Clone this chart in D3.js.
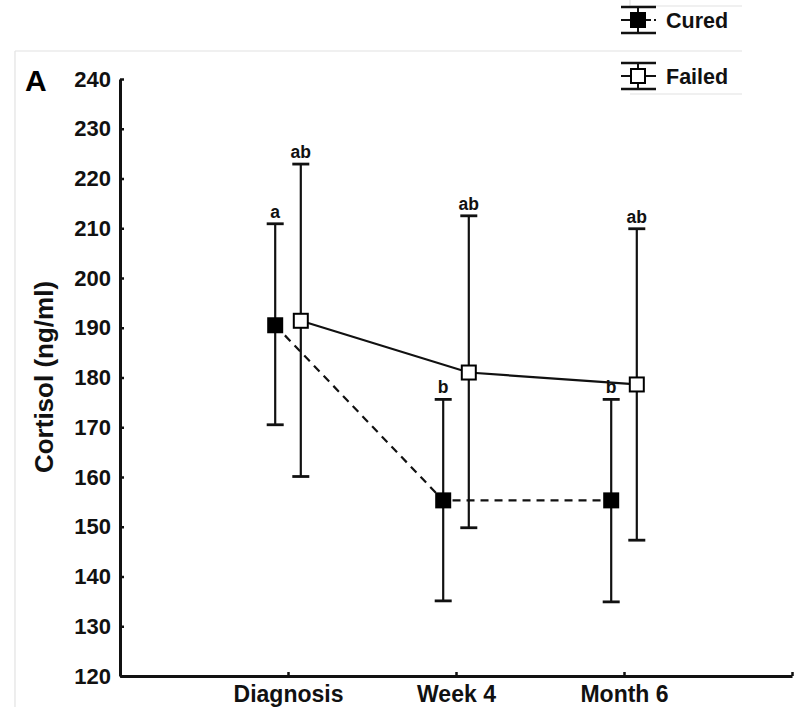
<!DOCTYPE html>
<html>
<head>
<meta charset="utf-8">
<script src="https://cdn.jsdelivr.net/npm/d3@7"></script>
<style>
  body { margin: 0; background: #fff; }
  svg { display: block; font-family: "Liberation Sans", Arial, sans-serif; font-weight: bold; }
</style>
</head>
<body>
<svg width="804" height="707"></svg>
<script>
'use strict';

var categories = ['Diagnosis', 'Week 4', 'Month 6'];
var curedMean = [190.5, 155.3, 155.3];
var curedLow = [170.5, 135.1, 134.9];
var curedHigh = [210.9, 175.6, 175.6];
var failedMean = [191.4, 181.0, 178.6];
var failedLow = [160.1, 149.8, 147.3];
var failedHigh = [222.9, 212.5, 209.9];
var curedLetters = ['a', 'b', 'b'];
var failedLetters = ['ab', 'ab', 'ab'];
var yTicks = [120, 130, 140, 150, 160, 170, 180, 190, 200, 210, 220, 230, 240];

(() => {
  var svg = d3.select('svg');
  var ink = '#111';

  // light frame lines from the original figure
  var frame = [[15, 51, 742, 51], [15, 51, 15, 707], [630, 6, 742, 6], [630, 0, 630, 6], [630, 94, 742, 94]];
  svg.selectAll('line.frame').data(frame).enter().append('line')
    .attr('class', 'frame')
    .attr('x1', d => d[0]).attr('y1', d => d[1])
    .attr('x2', d => d[2]).attr('y2', d => d[3])
    .attr('stroke', '#e2e2e2').attr('stroke-width', 1.2);

  var x = d3.scaleLinear().domain([0, 4]).range([120, 792]);
  var y = d3.scaleLinear().domain([120, 240]).range([676, 79]);
  var off = 12.8;

  var yAxis = svg.append('g')
    .attr('transform', 'translate(120,0)')
    .call(d3.axisLeft(y).tickValues(yTicks).tickSize(-4).tickSizeOuter(0).tickPadding(9));
  yAxis.selectAll('text').attr('font-size', 22).attr('fill', ink);

  var xAxis = svg.append('g')
    .attr('transform', 'translate(0,676)')
    .call(d3.axisBottom(x).tickValues([1, 2, 3, 4]).tickSize(-4).tickSizeOuter(0).tickPadding(10)
      .tickFormat(i => categories[i - 1] || ''));
  xAxis.selectAll('text').attr('font-size', 23).attr('fill', ink);

  svg.selectAll('.domain').attr('stroke', ink).attr('stroke-width', 3);
  svg.selectAll('.tick line').attr('stroke', ink).attr('stroke-width', 2.5);

  svg.append('text')
    .attr('transform', 'translate(53,377) rotate(-90)')
    .attr('text-anchor', 'middle')
    .attr('font-size', 26)
    .attr('fill', ink)
    .text('Cortisol (ng/ml)');

  svg.append('text')
    .attr('x', 25).attr('y', 91)
    .attr('font-size', 30)
    .attr('fill', '#000')
    .text('A');

  var series = [
    {name: 'Cured', mean: curedMean, low: curedLow, high: curedHigh, letters: curedLetters, dx: -off, fill: '#000', dash: '8,6'},
    {name: 'Failed', mean: failedMean, low: failedLow, high: failedHigh, letters: failedLetters, dx: off, fill: '#fff', dash: null}
  ];

  series.forEach(s => {
    var pts = s.mean.map((m, i) => ({i: i, m: m, lo: s.low[i], hi: s.high[i], lab: s.letters[i], px: x(i + 1) + s.dx}));
    var g = svg.append('g');

    g.selectAll('line.bar').data(pts).enter().append('line')
      .attr('x1', d => d.px).attr('x2', d => d.px)
      .attr('y1', d => y(d.lo)).attr('y2', d => y(d.hi))
      .attr('stroke', ink).attr('stroke-width', 2.2);
    ['lo', 'hi'].forEach(k => {
      g.selectAll('line.cap' + k).data(pts).enter().append('line')
        .attr('x1', d => d.px - 8.5).attr('x2', d => d.px + 8.5)
        .attr('y1', d => y(d[k])).attr('y2', d => y(d[k]))
        .attr('stroke', ink).attr('stroke-width', 2.8);
    });

    g.selectAll('text').data(pts).enter().append('text')
      .attr('x', d => d.px).attr('y', d => y(d.hi) - 6)
      .attr('text-anchor', 'middle')
      .attr('font-size', 17.5)
      .attr('fill', ink)
      .text(d => d.lab);

    s.pts = pts;
  });

  series.forEach(s => {
    svg.append('path')
      .datum(s.pts)
      .attr('d', d3.line().x(d => d.px).y(d => y(d.m)))
      .attr('fill', 'none')
      .attr('stroke', ink)
      .attr('stroke-width', 2.2)
      .attr('stroke-dasharray', s.dash);
  });

  series.forEach(s => {
    svg.append('g').selectAll('rect').data(s.pts).enter().append('rect')
      .attr('x', d => d.px - 7).attr('y', d => y(d.m) - 7)
      .attr('width', 14).attr('height', 14)
      .attr('fill', s.fill)
      .attr('stroke', '#000').attr('stroke-width', 2);
  });

  // legend
  var leg = svg.append('g').selectAll('g').data(series).enter().append('g')
    .attr('transform', (d, i) => `translate(638, ${20 + i * 56})`);
  leg.append('line')
    .attr('x1', 0).attr('x2', 0).attr('y1', -13).attr('y2', 13)
    .attr('stroke', ink).attr('stroke-width', 2);
  [-13, 13].forEach(cy => {
    leg.append('line')
      .attr('x1', -17).attr('x2', 18).attr('y1', cy).attr('y2', cy)
      .attr('stroke', ink).attr('stroke-width', 2.5);
  });
  leg.append('line')
    .attr('x1', -17).attr('x2', 18).attr('y1', 0).attr('y2', 0)
    .attr('stroke', ink).attr('stroke-width', 2)
    .attr('stroke-dasharray', d => d.dash ? '11,3,2,3' : null);
  leg.append('rect')
    .attr('x', -7).attr('y', -7).attr('width', 14).attr('height', 14)
    .attr('fill', d => d.fill)
    .attr('stroke', '#000').attr('stroke-width', 2);
  leg.append('text')
    .attr('x', 28).attr('y', 7.5)
    .attr('font-size', 21.5)
    .attr('fill', ink)
    .text(d => d.name);
})();
</script>
</body>
</html>
